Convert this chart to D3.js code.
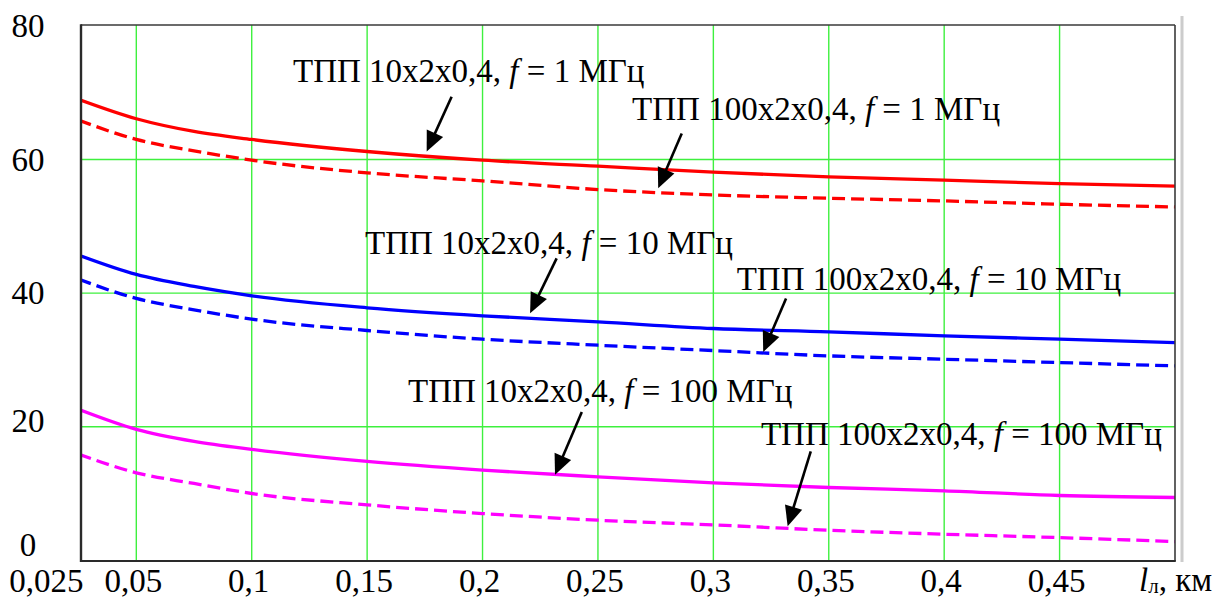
<!DOCTYPE html>
<html><head><meta charset="utf-8">
<script src="https://cdn.jsdelivr.net/npm/d3@7"></script>
<style>
html,body{margin:0;padding:0;background:#fff;}
svg{display:block;}
text{font-family:"Liberation Serif","Times New Roman",serif;white-space:pre;}
</style></head>
<body>
<svg id="chart" width="1221" height="599"></svg>
<script>
// ---- data ----
const xValues = [0.025,0.05,0.075,0.1,0.15,0.2,0.25,0.3,0.35,0.4,0.45,0.5];
const red10  = [69.0,66.1,64.2,63.0,61.2,59.9,59.0,58.1,57.4,56.9,56.4,56.0];
const red100 = [65.9,63.0,61.3,59.9,58.0,56.8,55.5,54.7,54.2,53.8,53.3,52.9];
const blue10  = [45.7,42.8,41.0,39.6,37.8,36.6,35.7,34.7,34.2,33.6,33.1,32.6];
const blue100 = [42.1,39.2,37.5,36.1,34.4,33.1,32.2,31.4,30.6,30.1,29.6,29.1];
const mag10  = [22.6,19.6,17.8,16.6,14.8,13.5,12.5,11.6,10.9,10.4,9.7,9.4];
const mag100 = [15.9,13.1,11.5,10.0,8.3,7.0,6.0,5.3,4.5,3.9,3.4,2.8];
const xTickValues = [0.025,0.05,0.1,0.15,0.2,0.25,0.3,0.35,0.4,0.45];
const xTickLabels = ["0,025","0,05","0,1","0,15","0,2","0,25","0,3","0,35","0,4","0,45"];
const yTickValues = [0,20,40,60,80];
const yTickLabels = ["0","20","40","60","80"];
const xGridValues = [0.05,0.1,0.15,0.2,0.25,0.3,0.35,0.4,0.45];
const yGridValues = [20,40,60];
const annoPre  = ["ТПП 10x2x0,4, ","ТПП 100x2x0,4, ","ТПП 10x2x0,4, ","ТПП 100x2x0,4, ","ТПП 10x2x0,4, ","ТПП 100x2x0,4, "];
const annoPost = [" = 1 МГц"," = 1 МГц"," = 10 МГц"," = 10 МГц"," = 100 МГц"," = 100 МГц"];
// annotation anchors in data units: text start, arrow tail, arrow tip
const annoTextX = [0.1179,0.2648,0.1491,0.3101,0.1677,0.3206];
const annoTextY = [71.6,65.9,45.8,40.5,23.7,17.3];
const annoTailX = [0.1866,0.2863,0.2321,0.3315,0.2430,0.3422];
const annoTailY = [69.4,63.9,45.2,39.2,22.2,16.3];
const annoTipX  = [0.1758,0.2761,0.2206,0.3216,0.2314,0.3322];
const annoTipY  = [61.2,55.7,37.0,31.2,12.8,5.1];

// ---- layout ----
const L = 81, R = 1175, T = 25, B = 561;
const svg = d3.select("#chart");
const x = d3.scaleLinear().domain([0.025,0.5]).range([78.6,1175]);
const y = d3.scaleLinear().domain([0,80]).range([560.3,25.9]);
const FS = 33;

svg.append("defs").append("clipPath").attr("id","plot")
  .append("rect").attr("x",L).attr("y",T).attr("width",R-L).attr("height",B-T);

// grid
const grid = svg.append("g");
grid.selectAll("line.v").data(xGridValues).join("line")
  .attr("x1",d=>x(d)).attr("x2",d=>x(d)).attr("y1",T).attr("y2",B)
  .attr("stroke","#3ef03e").attr("stroke-width",1.4);
grid.selectAll("line.h").data(yGridValues).join("line")
  .attr("x1",L).attr("x2",R).attr("y1",d=>y(d)).attr("y2",d=>y(d))
  .attr("stroke","#3ef03e").attr("stroke-width",1.4);

// gray separator at right
svg.append("line").attr("x1",1182).attr("x2",1182).attr("y1",16).attr("y2",562)
  .attr("stroke","#cccccc").attr("stroke-width",3);

// series
const series = [
  {v:red10, c:"#ff0000", dash:null},
  {v:red100, c:"#ff0000", dash:"13,6"},
  {v:blue10, c:"#0000ff", dash:null},
  {v:blue100, c:"#0000ff", dash:"13,6"},
  {v:mag10, c:"#ff00ff", dash:null},
  {v:mag100, c:"#ff00ff", dash:"13,6"}
];
const line = d3.line().x((d,i)=>x(xValues[i])).y(d=>y(d)).curve(d3.curveMonotoneX);
const gl = svg.append("g").attr("clip-path","url(#plot)");
series.forEach(s=>{
  gl.append("path").attr("d",line(s.v)).attr("fill","none")
    .attr("stroke",s.c).attr("stroke-width",3.3)
    .attr("stroke-dasharray",s.dash);
});

// frame
svg.append("line").attr("x1",L).attr("x2",R).attr("y1",T).attr("y2",T).attr("stroke","#3a3a3a").attr("stroke-width",1.6);
svg.append("line").attr("x1",R).attr("x2",R).attr("y1",T).attr("y2",B).attr("stroke","#3a3a3a").attr("stroke-width",1.6);
svg.append("line").attr("x1",L).attr("x2",L).attr("y1",T-0.8).attr("y2",B+1).attr("stroke","#2a2a2a").attr("stroke-width",2.4);
svg.append("line").attr("x1",L).attr("x2",R+0.8).attr("y1",B).attr("y2",B).attr("stroke","#2a2a2a").attr("stroke-width",2.2);

// y tick labels
svg.selectAll("text.yt").data(yTickValues).join("text")
  .attr("x",28).attr("y",d=>y(d) + (d>=40?11:(d===20?5:-4)))
  .attr("text-anchor","middle").attr("font-size",FS).attr("fill","#000")
  .text((d,i)=>yTickLabels[i]);

// x tick labels
svg.selectAll("text.xt").data(xTickValues).join("text")
  .attr("x",(d,i)=> i===0 ? x(d)+5 : x(d)-3)
  .attr("y",592)
  .attr("text-anchor",(d,i)=> i===0 ? "end" : "middle")
  .attr("font-size",FS).attr("fill","#000")
  .text((d,i)=>xTickLabels[i]);

// x axis title
const xt = svg.append("text").attr("x",1139).attr("y",591).attr("font-size",FS).attr("fill","#000");
xt.append("tspan").attr("font-style","italic").text("l");
xt.append("tspan").attr("font-size",21).attr("dy",2).text("л");
xt.append("tspan").attr("dy",-2).text(", км");

// annotations
const ga = svg.append("g");
annoPre.forEach((p,i)=>{
  const t = ga.append("text").attr("x",x(annoTextX[i])).attr("y",y(annoTextY[i]))
    .attr("font-size",FS).attr("fill","#000");
  t.append("tspan").text(p);
  t.append("tspan").attr("font-style","italic").text("f");
  t.append("tspan").text(annoPost[i]);
  const x1=x(annoTailX[i]), y1=y(annoTailY[i]), x2=x(annoTipX[i]), y2=y(annoTipY[i]);
  const dx=x2-x1, dy=y2-y1, len=Math.hypot(dx,dy), ux=dx/len, uy=dy/len;
  const hl=20, hw=9;
  const bx=x2-ux*hl, by=y2-uy*hl;
  ga.append("line").attr("x1",x1).attr("y1",y1).attr("x2",bx+ux*2).attr("y2",by+uy*2)
    .attr("stroke","#000").attr("stroke-width",2.6);
  ga.append("path").attr("d",`M${x2},${y2}L${bx-uy*hw},${by+ux*hw}L${bx+uy*hw},${by-ux*hw}Z`)
    .attr("fill","#000");
});
</script>
</body></html>
